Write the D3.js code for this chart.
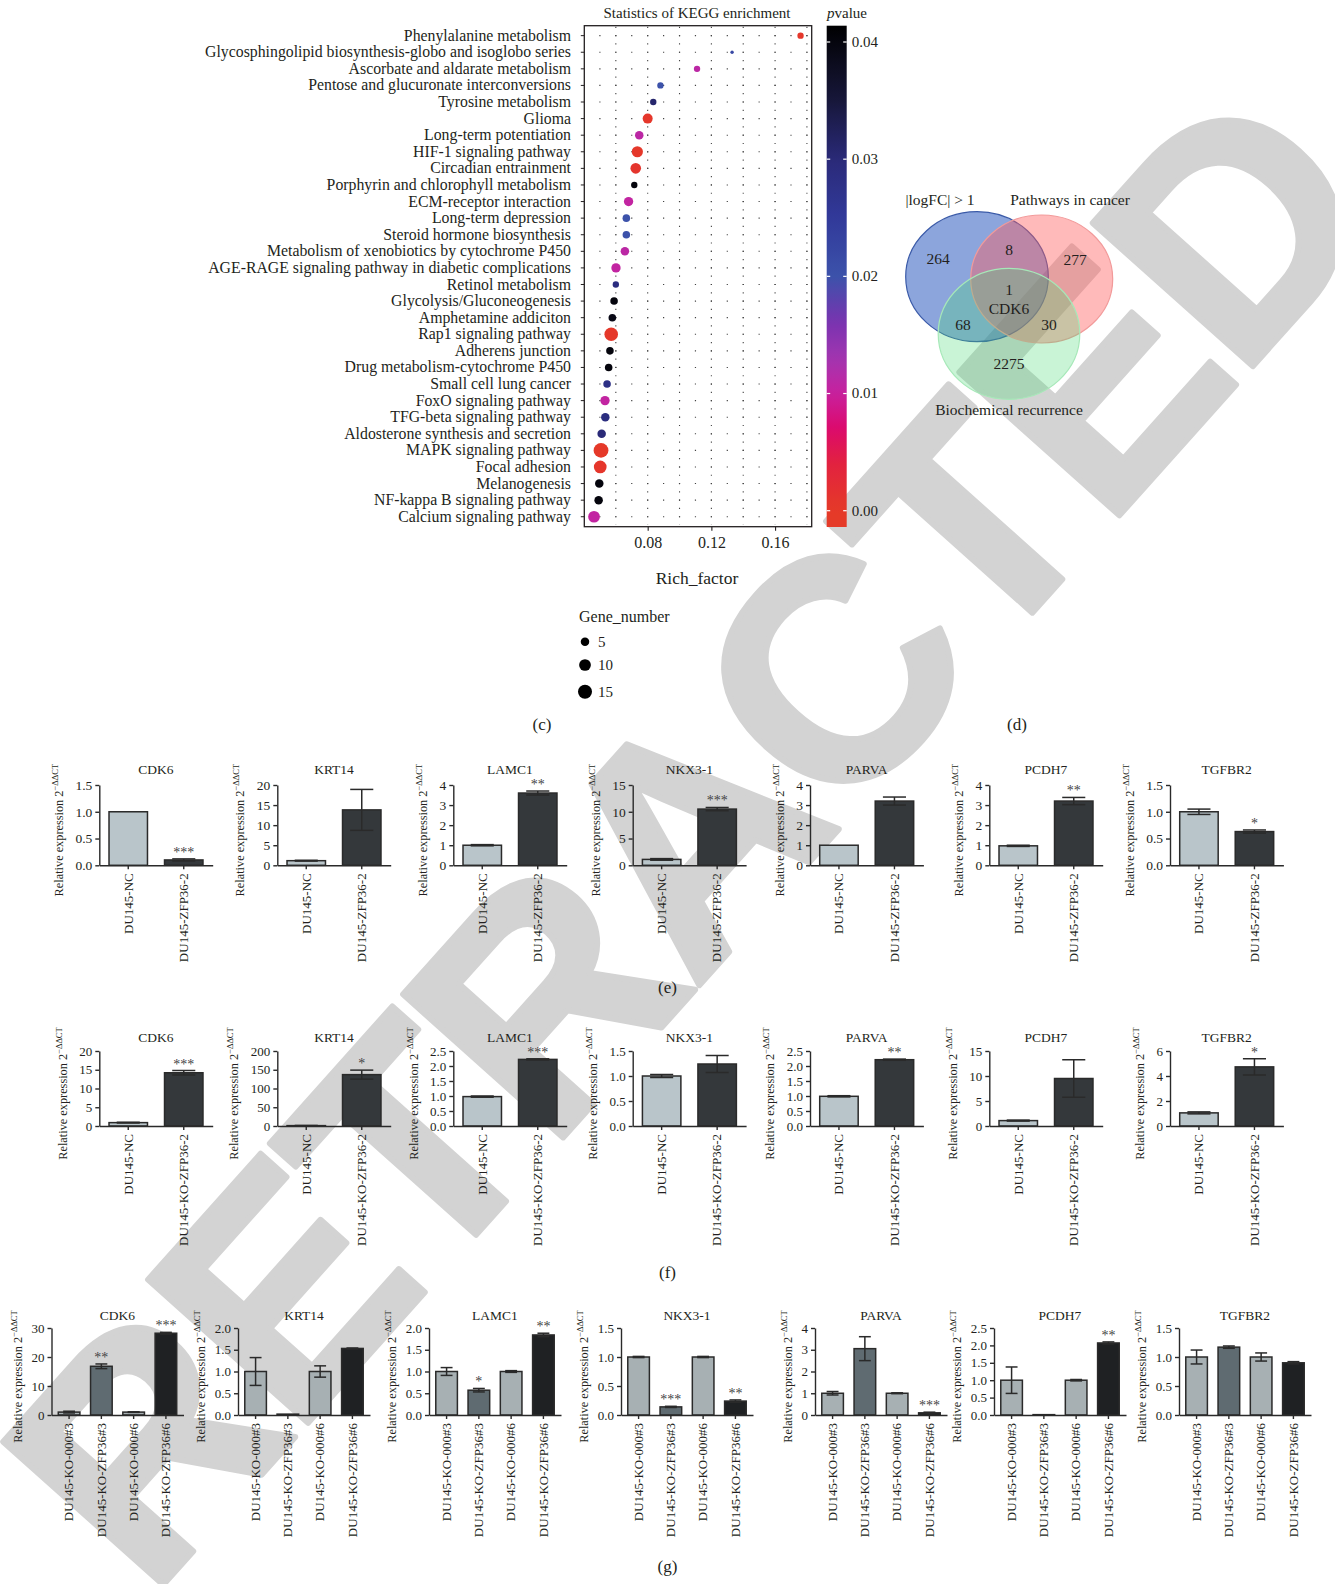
<!DOCTYPE html>
<html><head><meta charset="utf-8">
<script src="https://cdn.jsdelivr.net/npm/d3@7"></script>
<style>
body{margin:0;background:#fff;}
svg{display:block;font-family:"Liberation Serif","Times New Roman",serif;}
</style></head><body>
<svg id="fig" width="1335" height="1584"></svg>
<script>
// ---------- KEGG enrichment data ----------
const keggPathways = [
  "Phenylalanine metabolism",
  "Glycosphingolipid biosynthesis-globo and isoglobo series",
  "Ascorbate and aldarate metabolism",
  "Pentose and glucuronate interconversions",
  "Tyrosine metabolism",
  "Glioma",
  "Long-term potentiation",
  "HIF-1 signaling pathway",
  "Circadian entrainment",
  "Porphyrin and chlorophyll metabolism",
  "ECM-receptor interaction",
  "Long-term depression",
  "Steroid hormone biosynthesis",
  "Metabolism of xenobiotics by cytochrome P450",
  "AGE-RAGE signaling pathway in diabetic complications",
  "Retinol metabolism",
  "Glycolysis/Gluconeogenesis",
  "Amphetamine addiciton",
  "Rap1 signaling pathway",
  "Adherens junction",
  "Drug metabolism-cytochrome P450",
  "Small cell lung cancer",
  "FoxO signaling pathway",
  "TFG-beta signaling pathway",
  "Aldosterone synthesis and secretion",
  "MAPK signaling pathway",
  "Focal adhesion",
  "Melanogenesis",
  "NF-kappa B signaling pathway",
  "Calcium signaling pathway"
];
const keggRichFactor = [0.176,0.133,0.111,0.088,0.0835,0.080,0.0747,0.0735,0.0725,0.0716,
  0.068,0.0666,0.0666,0.0657,0.0601,0.060,0.0589,0.0578,0.0571,0.0563,
  0.0555,0.0545,0.0532,0.0534,0.0511,0.0507,0.0502,0.0496,0.0492,0.0463];
const keggGeneNumber = [3,2,3,3,3,7,5,9,8,3,6,4,4,5,6,3,4,4,14,4,4,4,6,5,5,17,12,5,5,10];
const keggPValue = [0.0005,0.022,0.011,0.020,0.031,0.0005,0.011,0.0003,0.0008,0.040,
  0.0105,0.020,0.020,0.011,0.0105,0.029,0.040,0.039,0.0004,0.040,
  0.040,0.028,0.0105,0.029,0.030,0.0002,0.0006,0.040,0.040,0.0105];
const richTicks = [0.08,0.12,0.16];
const pTicks = [0.00,0.01,0.02,0.03,0.04];
const geneLegend = [5,10,15];

// ---------- Venn data ----------
const vennSets = ["|logFC| > 1","Pathways in cancer","Biochemical recurrence"];
const vennCounts = {a:264, b:277, c:2275, ab:8, ac:68, bc:30, abc:1};
const vennCore = "CDK6";

// ---------- qPCR data ----------
const genes = ["CDK6","KRT14","LAMC1","NKX3-1","PARVA","PCDH7","TGFBR2"];

const groupsE = ["DU145-NC","DU145-ZFP36-2"];
const meanE = [[1.0,0.1],[1.15,13.8],[1.0,3.6],[1.1,10.5],[1.0,3.2],[0.97,3.2],[1.0,0.63]];
const errE  = [[0,0.02],[0.1,5.1],[0.03,0.1],[0.15,0.3],[0,0.2],[0.03,0.18],[0.05,0.03]];
const starE = [["","***"],["",""],["","**"],["","***"],["",""],["","**"],["","*"]];
const ticksE = [[0,0.5,1,1.5],[0,5,10,15,20],[0,1,2,3,4],[0,5,10,15],[0,1,2,3,4],[0,1,2,3,4],[0,0.5,1,1.5]];

const groupsF = ["DU145-NC","DU145-KO-ZFP36-2"];
const meanF = [[0.9,14.2],[1.0,137],[0.98,2.22],[1.0,1.24],[0.99,2.21],[1.08,9.5],[1.05,4.73]];
const errF  = [[0.1,0.6],[0.5,12],[0.02,0.02],[0.03,0.17],[0.02,0.02],[0.1,3.75],[0.08,0.65]];
const starF = [["","***"],["","*"],["","***"],["",""],["","**"],["",""],["","*"]];
const ticksF = [[0,5,10,15,20],[0,50,100,150,200],[0,0.5,1,1.5,2,2.5],[0,0.5,1,1.5],[0,0.5,1,1.5,2,2.5],[0,5,10,15],[0,2,4,6]];

const groupsG = ["DU145-KO-000#3","DU145-KO-ZFP36#3","DU145-KO-000#6","DU145-KO-ZFP36#6"];
const meanG = [[1.0,16.8,1.0,28.2],[1.0,0.02,1.0,1.53],[1.0,0.57,1.0,1.84],[1.0,0.14,1.0,0.24],
  [1.0,3.05,1.0,0.1],[1.0,0.01,1.0,2.07],[1.0,1.17,1.0,0.9]];
const errG = [[0.3,0.8,0.1,0.3],[0.32,0,0.13,0.01],[0.09,0.04,0.02,0.04],[0.01,0.01,0.01,0.02],
  [0.08,0.55,0.02,0.03],[0.38,0,0.02,0.03],[0.12,0.02,0.07,0.02]];
const starG = [["","**","","***"],["","","",""],["","*","","**"],["","***","","**"],
  ["","","","***"],["","","","**"],["","","",""]];
const ticksG = [[0,10,20,30],[0,0.5,1,1.5,2],[0,0.5,1,1.5,2],[0,0.5,1,1.5],[0,1,2,3,4],[0,0.5,1,1.5,2,2.5],[0,0.5,1,1.5]];

const svg = d3.select("#fig");
svg.append("rect").attr("width",1335).attr("height",1584).attr("fill","#fff");

// retraction stamp behind the panels
svg.append("text")
  .attr("transform","translate(686,838) rotate(-48.2)")
  .attr("text-anchor","middle").attr("dominant-baseline","central")
  .style("font-family","'Liberation Sans',Arial,sans-serif").style("font-weight","bold")
  .style("font-size","312px").style("letter-spacing","-8px")
  .attr("fill","#d3d3d3").attr("stroke","#d3d3d3").attr("stroke-width",6).attr("stroke-linejoin","round")
  .text("RETRACTED");

const ink = "#231f20";

// ================= (c) KEGG dot plot =================
const box = {l:584.3, r:811.7, t:25.7, b:526.7};
const kx = d3.scaleLinear().domain([0.0402,0.183]).range([box.l, box.r]);
const ky = d3.scalePoint().domain(keggPathways).range([box.t, box.b]).padding(0.6);
const pColor = d3.scaleLinear()
  .domain([0,0.004,0.007,0.010,0.013,0.016,0.020,0.025,0.030,0.035,0.0415])
  .range(["#e53a28","#e2223f","#dc0a6c","#c8209e","#a236b0","#7a33b0","#3c52aa","#31399a","#2a2a78","#17173a","#000000"]);
const sizeNorm = d3.scaleLinear().domain([2,17]).range([0,1]);
const rScale = d3.scaleLinear().domain([0,1]).range([1.7,7.4]);
const dotR = n => rScale(Math.sqrt(Math.max(0,sizeNorm(n))));

const kg = svg.append("g");
kg.append("rect").attr("x",box.l).attr("y",box.t).attr("width",box.r-box.l).attr("height",box.b-box.t)
  .attr("fill","#fff").attr("stroke",ink).attr("stroke-width",1.3);

const step01 = kx(0.06)-kx(0.05);
// dotted grid along each pathway row
kg.selectAll("line.hg").data(keggPathways).join("line").attr("class","hg")
  .attr("x1",kx(0.05)-0.6).attr("x2",kx(0.18)+0.7)
  .attr("y1",d=>ky(d)).attr("y2",d=>ky(d))
  .attr("stroke","#444").attr("stroke-width",1.1)
  .attr("stroke-dasharray",`1.2 ${step01-1.2}`);
const vBreaks = d3.range(0.06,0.1801,0.02);
const halfRow = ky.step()/2;
kg.selectAll("line.vg").data(vBreaks).join("line").attr("class","vg")
  .attr("x1",d=>kx(d)).attr("x2",d=>kx(d))
  .attr("y1",ky(keggPathways[0])-halfRow-0.6).attr("y2",box.b-2)
  .attr("stroke","#444").attr("stroke-width",1.1)
  .attr("stroke-dasharray",`1.2 ${halfRow-1.2}`);

// row ticks and names
kg.selectAll("line.yt").data(keggPathways).join("line").attr("class","yt")
  .attr("x1",box.l-3.5).attr("x2",box.l).attr("y1",d=>ky(d)).attr("y2",d=>ky(d))
  .attr("stroke",ink).attr("stroke-width",1);
kg.selectAll("text.yl").data(keggPathways).join("text").attr("class","yl")
  .attr("x",571).attr("y",d=>ky(d)).attr("dy","0.32em")
  .attr("text-anchor","end").style("font-size","15.8px").attr("fill",ink).text(d=>d);

// x axis
const kxa = kg.append("g").attr("transform",`translate(0,${box.b})`)
  .call(d3.axisBottom(kx).tickValues(richTicks).tickFormat(d3.format(".2f")).tickSize(4).tickSizeOuter(0).tickPadding(6));
kxa.select(".domain").remove();
kxa.selectAll("line").attr("stroke",ink).attr("stroke-width",1.1);
kxa.selectAll("text").style("font-size","16px").style("font-family","'Liberation Serif',serif").attr("fill",ink);
kg.append("text").attr("x",697).attr("y",584).attr("text-anchor","middle")
  .style("font-size","17.5px").attr("fill",ink).text("Rich_factor");
kg.append("text").attr("x",697).attr("y",18).attr("text-anchor","middle")
  .style("font-size","15px").attr("fill",ink).text("Statistics of KEGG enrichment");

// dots
const kdata = keggPathways.map((p,i)=>({p, rf:keggRichFactor[i], n:keggGeneNumber[i], pv:keggPValue[i]}));
kg.selectAll("circle.kd").data(kdata).join("circle").attr("class","kd")
  .attr("cx",d=>kx(d.rf)).attr("cy",d=>ky(d.p)).attr("r",d=>dotR(d.n))
  .attr("fill",d=>pColor(d.pv));

// colour bar
const cb = {x:826.7, w:20, t:25.7, b:527};
const cbY = d3.scaleLinear().domain([0,0.04]).range([510.7,42]);
const grad = svg.append("defs").append("linearGradient").attr("id","pgrad")
  .attr("gradientUnits","userSpaceOnUse").attr("x1",0).attr("x2",0).attr("y1",cb.b).attr("y2",cb.t);
const pLo = cbY.invert(cb.b), pHi = cbY.invert(cb.t);
d3.range(0,1.0001,0.025).forEach(f=>{
  grad.append("stop").attr("offset",f).attr("stop-color",pColor(Math.max(0,pLo+(pHi-pLo)*f)));
});
kg.append("rect").attr("x",cb.x).attr("y",cb.t).attr("width",cb.w).attr("height",cb.b-cb.t).attr("fill","url(#pgrad)");
pTicks.forEach(t=>{
  kg.append("line").attr("x1",cb.x).attr("x2",cb.x+3.5).attr("y1",cbY(t)).attr("y2",cbY(t)).attr("stroke","#fff").attr("stroke-width",1.2);
  kg.append("line").attr("x1",cb.x+cb.w-3.5).attr("x2",cb.x+cb.w).attr("y1",cbY(t)).attr("y2",cbY(t)).attr("stroke","#fff").attr("stroke-width",1.2);
  kg.append("text").attr("x",cb.x+cb.w+5).attr("y",cbY(t)).attr("dy","0.33em")
    .style("font-size","15px").attr("fill",ink).text(d3.format(".2f")(t));
});
const pt = kg.append("text").attr("x",827).attr("y",18).style("font-size","15px").attr("fill",ink);
pt.append("tspan").style("font-style","italic").text("p");
pt.append("tspan").text("value");

// size legend
kg.append("text").attr("x",579).attr("y",622).style("font-size","16px").attr("fill",ink).text("Gene_number");
const legY = [641.7,665,691.7];
geneLegend.forEach((n,i)=>{
  kg.append("circle").attr("cx",585).attr("cy",legY[i]).attr("r",dotR(n)).attr("fill","#000");
  kg.append("text").attr("x",598).attr("y",legY[i]).attr("dy","0.33em").style("font-size","15px").attr("fill",ink).text(n);
});

// ================= (d) Venn =================
const vg = svg.append("g");
const ell = [
  {cx:977, cy:276.7, rx:71.3, ry:65, fill:"#2352bb", op:0.52, stroke:"#3a5aa8"},
  {cx:1041.7, cy:279, rx:71, ry:64, fill:"#ff5a5a", op:0.42, stroke:"#f29a9a"},
  {cx:1009, cy:333.8, rx:70.8, ry:65.5, fill:"#45d972", op:0.29, stroke:"#a6e8b8"}
];
vg.selectAll("ellipse").data(ell).join("ellipse")
  .attr("cx",d=>d.cx).attr("cy",d=>d.cy).attr("rx",d=>d.rx).attr("ry",d=>d.ry)
  .attr("fill",d=>d.fill).attr("fill-opacity",d=>d.op)
  .attr("stroke",d=>d.stroke).attr("stroke-width",1.2);
const vText = [
  {x:940, y:200, s:vennSets[0]},
  {x:1070, y:200, s:vennSets[1]},
  {x:1009, y:410, s:vennSets[2]},
  {x:938, y:259, s:vennCounts.a},
  {x:1009, y:250, s:vennCounts.ab},
  {x:1075, y:260, s:vennCounts.b},
  {x:1009, y:290, s:vennCounts.abc},
  {x:1009, y:309, s:vennCore},
  {x:963, y:325, s:vennCounts.ac},
  {x:1049, y:325, s:vennCounts.bc},
  {x:1009, y:364, s:vennCounts.c}
];
vg.selectAll("text").data(vText).join("text")
  .attr("x",d=>d.x).attr("y",d=>d.y).attr("dy","0.33em").attr("text-anchor","middle")
  .style("font-size","15.5px").attr("fill",ink).text(d=>d.s);

// ================= qPCR bar panels =================
function barPanel(o){
  const g = svg.append("g");
  const x = d3.scaleBand().domain(o.groups).range([o.x0,o.x0+o.width]).paddingInner(o.pi).paddingOuter(o.po);
  const y = d3.scaleLinear().domain([0,d3.max(o.ticks)]).range([o.bottom,o.top]);
  const bw = x.bandwidth();
  const rows = o.groups.map((k,i)=>({k, m:o.means[i], e:o.errs[i], s:o.stars[i], f:o.fills[i]}));
  g.selectAll("rect").data(rows).join("rect")
    .attr("x",d=>x(d.k)).attr("width",bw)
    .attr("y",d=>y(d.m)).attr("height",d=>Math.max(0,y(0)-y(d.m)))
    .attr("fill",d=>d.f).attr("stroke","#2a2a2a").attr("stroke-width",1.5);
  const cw = bw*o.cap;
  rows.filter(d=>d.e>0).forEach(d=>{
    const cx = x(d.k)+bw/2, yt = y(d.m+d.e), yb = y(Math.max(0,d.m-d.e));
    g.append("line").attr("x1",cx).attr("x2",cx).attr("y1",yt).attr("y2",yb).attr("stroke","#2a2a2a").attr("stroke-width",1.5);
    [yt,yb].forEach(yy=>g.append("line").attr("x1",cx-cw/2).attr("x2",cx+cw/2).attr("y1",yy).attr("y2",yy).attr("stroke","#2a2a2a").attr("stroke-width",1.5));
  });
  rows.filter(d=>d.s).forEach(d=>{
    g.append("text").attr("x",x(d.k)+bw/2).attr("y",y(d.m+d.e)-2).attr("text-anchor","middle")
      .style("font-size","14px").attr("fill","#444").text(d.s);
  });
  const ya = g.append("g").attr("transform",`translate(${o.x0},0)`)
    .call(d3.axisLeft(y).tickValues(o.ticks).tickFormat(d3.format(o.fmt)).tickSize(4).tickSizeOuter(0).tickPadding(3));
  ya.selectAll("path,line").attr("stroke","#2a2a2a").attr("stroke-width",1.4);
  ya.selectAll("text").style("font-size",o.tickSize+"px").style("font-family","'Liberation Serif',serif").attr("fill",ink);
  const xa = g.append("g").attr("transform",`translate(0,${o.bottom})`)
    .call(d3.axisBottom(x).tickSize(4).tickSizeOuter(0).tickFormat(""));
  xa.selectAll("path,line").attr("stroke","#2a2a2a").attr("stroke-width",1.4);
  o.groups.forEach(k=>{
    g.append("text").attr("transform",`translate(${x(k)+bw/2},${o.bottom+8}) rotate(-90)`)
      .attr("text-anchor","end").attr("dy","0.33em").style("font-size","13px").attr("fill",ink).text(k);
  });
  g.append("text").attr("x",o.x0+o.width/2).attr("y",o.titleY).attr("text-anchor","middle")
    .style("font-size","13.5px").attr("fill",ink).text(o.title);
  const aw = ya.node().getBBox().width;
  const lab = g.append("text")
    .attr("transform",`translate(${o.x0-aw-o.labGap},${(o.top+o.bottom)/2+5}) rotate(-90)`)
    .attr("text-anchor","middle").style("font-size","12.3px").attr("fill",ink);
  lab.append("tspan").text("Relative expression 2");
  lab.append("tspan").attr("dy",-5).style("font-size","8.5px").text("\u2212\u0394\u0394CT");
}

const fmtFor = t => t.some(v=>v%1!==0) ? ".1f" : "d";
const xE = [99.3,277.3,453.3,632.7,810,989.3,1170];
genes.forEach((gname,i)=>{
  barPanel({x0:xE[i], width:113.4, top:785, bottom:865.3, titleY:774, title:gname,
    groups:groupsE, means:meanE[i], errs:errE[i], stars:starE[i], ticks:ticksE[i], fmt:fmtFor(ticksE[i]),
    fills:["#b9c5ca","#34383b"], pi:0.307, po:0.175, cap:0.6, labGap:12, tickSize:13.5});
  barPanel({x0:xE[i], width:113.4, top:1051, bottom:1126, titleY:1042, title:gname,
    groups:groupsF, means:meanF[i], errs:errF[i], stars:starF[i], ticks:ticksF[i], fmt:fmtFor(ticksF[i]),
    fills:["#b9c5ca","#34383b"], pi:0.307, po:0.175, cap:0.6, labGap:12, tickSize:13});
});
const xG = [51.5,238,429,621,815,994,1179];
genes.forEach((gname,i)=>{
  barPanel({x0:xG[i], width:132, top:1328, bottom:1415, titleY:1320, title:gname,
    groups:groupsG, means:meanG[i], errs:errG[i], stars:starG[i], ticks:ticksG[i], fmt:fmtFor(ticksG[i]),
    fills:["#a7b0b3","#5f6b71","#a7b0b3","#1f2123"], pi:0.33, po:0.21, cap:0.55, labGap:9, tickSize:13});
});

// panel letters
[["(c)",542,730],["(d)",1017,730],["(e)",667.5,993],["(f)",667.5,1278],["(g)",667.5,1572]].forEach(([s,x,y])=>{
  svg.append("text").attr("x",x).attr("y",y).attr("text-anchor","middle").style("font-size","17px").attr("fill",ink).text(s);
});
</script></body></html>
